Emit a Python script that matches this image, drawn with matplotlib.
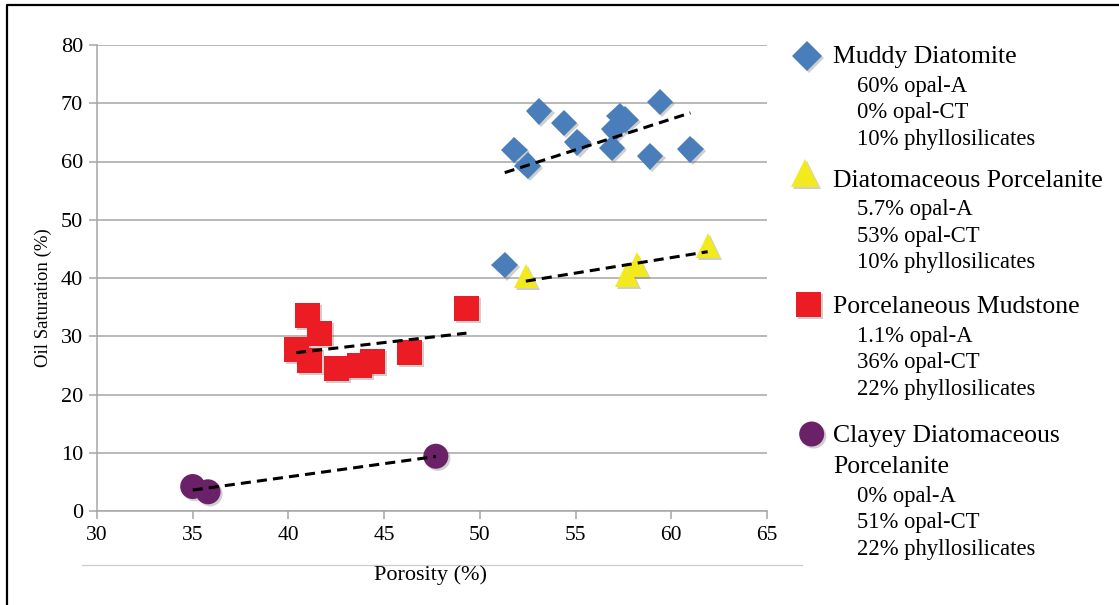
import numpy as np
import matplotlib
matplotlib.use("Agg")
import matplotlib.pyplot as plt
from matplotlib.lines import Line2D
import matplotlib.patheffects as pe

plt.rcParams['font.family'] = ['Liberation Serif', 'DejaVu Serif']

# ---- data -------------------------------------------------------------
muddy_porosity = [51.3, 51.8, 52.5, 53.1, 54.4, 55.1, 56.9, 57.0, 57.3, 57.6, 58.9, 59.4, 61.0]
muddy_oil = [42.2, 62.0, 59.3, 68.6, 66.6, 63.3, 62.3, 65.5, 67.8, 67.2, 60.9, 70.2, 62.1]

diat_porc_porosity = [52.4, 57.7, 58.2, 61.9]
diat_porc_oil = [40.3, 40.6, 42.3, 45.6]

mudstone_porosity = [40.4, 41.0, 41.6, 41.1, 42.5, 43.7, 44.4, 46.3, 49.3]
mudstone_oil = [27.7, 33.6, 30.5, 25.8, 24.5, 25.0, 25.6, 27.2, 34.8]

clayey_porosity = [35.0, 35.8, 47.7]
clayey_oil = [4.2, 3.3, 9.4]

x_ticks = [30, 35, 40, 45, 50, 55, 60, 65]
y_ticks = [0, 10, 20, 30, 40, 50, 60, 70, 80]

legend_titles = ["Muddy Diatomite", "Diatomaceous Porcelanite",
                 "Porcelaneous Mudstone", "Clayey Diatomaceous\nPorcelanite"]
legend_compositions = [
    ["60% opal-A", "0% opal-CT", "10% phyllosilicates"],
    ["5.7% opal-A", "53% opal-CT", "10% phyllosilicates"],
    ["1.1% opal-A", "36% opal-CT", "22% phyllosilicates"],
    ["0% opal-A", "51% opal-CT", "22% phyllosilicates"],
]

# ---- styling ----------------------------------------------------------
W, H = 1119, 605
BLUE, YELLOW, RED, PURPLE = '#4A7EBB', '#F2EA1E', '#EC1C24', '#6A2167'
GRID = '#A6A6A6'

series = [
    (muddy_porosity, muddy_oil, 'D', 13.5, BLUE),
    (diat_porc_porosity, diat_porc_oil, '^', 17.5, YELLOW),
    (mudstone_porosity, mudstone_oil, 's', 18, RED),
    (clayey_porosity, clayey_oil, 'o', 18, PURPLE),
]

shadow = [pe.SimplePatchShadow(offset=(1.5, -1.5), shadow_rgbFace='#777777', alpha=0.35),
          pe.Normal()]


def fx(px):
    return px / W


def fy(py):
    return 1 - py / H


fig = plt.figure(figsize=(W / 100, H / 100), dpi=100)
fig.patch.set_facecolor('white')

ax = fig.add_axes([fx(97), fy(511), (767 - 97) / W, (511 - 45) / H])
ax.set_xlim(30, 65)
ax.set_ylim(0, 80)
ax.set_xticks(x_ticks)
ax.set_yticks(y_ticks)
ax.yaxis.grid(True, color=GRID, lw=1.1)
ax.set_axisbelow(True)
for side in ('top', 'right'):
    ax.spines[side].set_visible(False)
for side in ('left', 'bottom'):
    ax.spines[side].set_color(GRID)
    ax.spines[side].set_linewidth(1.1)
ax.tick_params(axis='both', direction='out', length=6, width=1.1, color=GRID,
               labelcolor='black')
ax.tick_params(axis='y', labelsize=16, pad=4)
ax.tick_params(axis='x', labelsize=15.5, pad=5)

for xs, ys, mk, ms, col in series:
    ax.plot(xs, ys, linestyle='none', marker=mk, markersize=ms,
            markerfacecolor=col, markeredgecolor='none', zorder=3,
            path_effects=shadow, clip_on=False)
    # least-squares trend line over the series' porosity range
    slope, intercept = np.polyfit(xs, ys, 1)
    xr = np.array([min(xs), max(xs)])
    ax.plot(xr, slope * xr + intercept, color='black', lw=2.2,
            dashes=(3.3, 2.0), zorder=4, solid_capstyle='butt')

# axis titles
fig.text(fx(43), fy(298), 'Oil Saturation (%)', rotation=90,
         ha='center', va='center', fontsize=13.5)
fig.text(fx(430), fy(580), 'Porosity (%)', ha='center', va='baseline', fontsize=16)

# thin rule under the x tick labels and outer frame
fig.add_artist(Line2D([fx(82), fx(802)], [fy(565), fy(565)], color='#CCCCCC', lw=0.9))
fig.add_artist(Line2D([fx(7), fx(7), 1.0], [0.0, fy(5), fy(5)], color='black', lw=1.6))

# ---- legend with composition notes -------------------------------------
legend_markers = [
    ('D', 15.3, BLUE, 806.7, 55.8),
    ('^', 20, YELLOW, 805, 173.3),
    ('s', 18, RED, 808, 304),
    ('o', 18, PURPLE, 811.7, 434),
]
header_baselines = [63.3, 186.7, 313.3, 441.7]

for (mk, ms, col, mx, my), title, comps, yb in zip(legend_markers, legend_titles,
                                                   legend_compositions, header_baselines):
    fig.add_artist(Line2D([fx(mx)], [fy(my)], linestyle='none', marker=mk,
                          markersize=ms, markerfacecolor=col, markeredgecolor='none',
                          path_effects=shadow))
    y = yb
    for i, line in enumerate(title.split('\n')):
        if i:
            y += 31.6
        fig.text(fx(833), fy(y), line, ha='left', va='baseline', fontsize=18.5)
    y += 28.4
    for j, comp in enumerate(comps):
        fig.text(fx(857), fy(y + 26.7 * j), comp, ha='left', va='baseline', fontsize=16.3)

fig.savefig('out.png', dpi=100, facecolor='white')
